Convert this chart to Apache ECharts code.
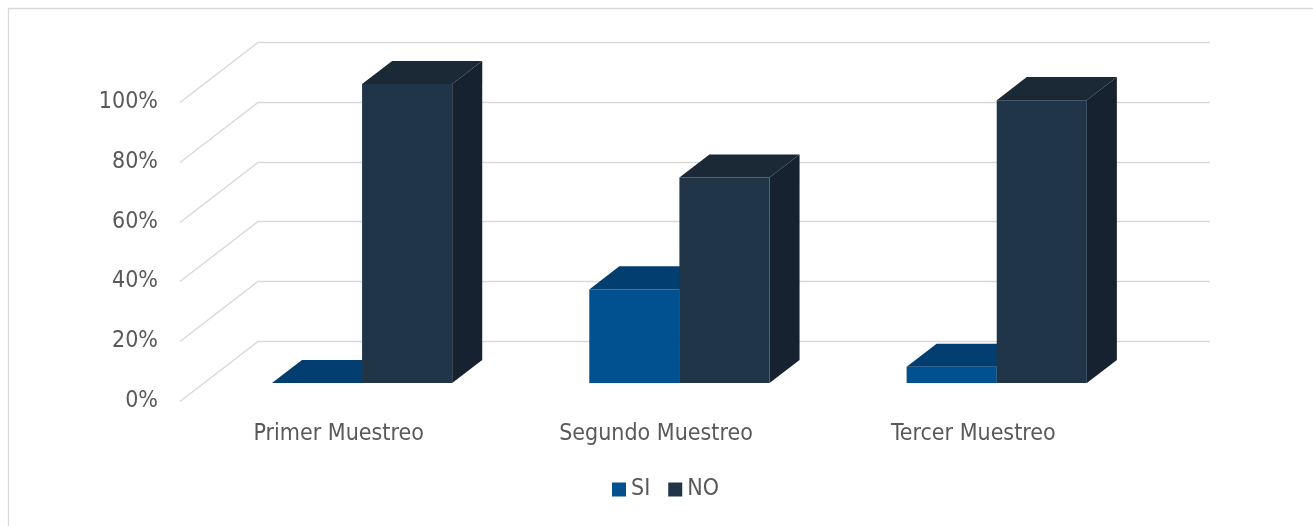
<!DOCTYPE html>
<html>
<head>
<meta charset="utf-8">
<script src="https://cdn.jsdelivr.net/npm/echarts@6/dist/echarts.min.js"></script>
<style>
html,body{margin:0;padding:0;background:#fff;}
#chart{width:1313px;height:526px;}
</style>
</head>
<body>
<div id="chart"></div>
<script>
const categories = ['Primer Muestreo', 'Segundo Muestreo', 'Tercer Muestreo'];
const siValues = [0, 31.3, 5.4];
const noValues = [100, 68.7, 94.6];
const yTicks = [0, 20, 40, 60, 80, 100];
const seriesNames = ['SI', 'NO'];

const FONT = '"DejaVu Sans Condensed", "DejaVu Sans", sans-serif';
const TXT = '#595959';
const DX = 78, DY = 60;          // full depth offset of the walls (px)
const BAR_FRONT = 0.3, BAR_DEPTH = 0.385;
const BAR_FRAC = 0.284;

const colors = {
  SI: {front: '#01508f', top: '#023e6f', side: '#013563'},
  NO: {front: '#213549', top: '#1b2937', side: '#16222f'}
};

function wallItem(params, api) {
  const cs = params.coordSys;
  const p = api.coord([0, api.value(1)]);
  const y = Math.round(p[1]) + 0.5;
  return {
    type: 'polyline',
    shape: {points: [[cs.x, y], [cs.x + DX, y - DY], [cs.x + cs.width + DX, y - DY]]},
    style: {stroke: '#d9d9d9', lineWidth: 1.4, fill: null},
    silent: true
  };
}

function barRenderer(name, isLeft) {
  const c = colors[name];
  return function (params, api) {
    const idx = api.value(0), val = api.value(1);
    const top = api.coord([idx, val]);
    const base = api.coord([idx, 0]);
    const band = api.size([1, 0])[0];
    const w = band * BAR_FRAC;
    const sx = DX * BAR_FRONT, sy = DY * BAR_FRONT;
    const ddx = DX * BAR_DEPTH, ddy = DY * BAR_DEPTH;
    const x0 = top[0] + sx - (isLeft ? w : 0);
    const x1 = x0 + w;
    const yT = top[1] - sy, yB = base[1] - sy;
    return {
      type: 'group',
      children: [
        {type: 'polygon', shape: {points: [[x1, yT], [x1 + ddx, yT - ddy], [x1 + ddx, yB - ddy], [x1, yB]]},
         style: {fill: c.side}},
        {type: 'rect', shape: {x: x0, y: yT, width: w, height: yB - yT}, style: {fill: c.front}},
        {type: 'polygon', shape: {points: [[x0, yT], [x0 + ddx, yT - ddy], [x1 + ddx, yT - ddy], [x1, yT]]},
         style: {fill: c.top}}
      ]
    };
  };
}

const chart = echarts.init(document.getElementById('chart'));
chart.setOption({
  backgroundColor: '#fff',
  animation: false,
  textStyle: {fontFamily: FONT},
  grid: {left: 180, width: 952, top: 102, bottom: 125},
  graphic: [{
    type: 'rect',
    shape: {x: 8.5, y: 8.5, width: 1400, height: 700},
    style: {fill: null, stroke: '#d9d9d9', lineWidth: 1.3}, silent: true, z: -10
  }],
  legend: {
    data: seriesNames, left: 612, top: 478, padding: 0, icon: 'rect',
    itemWidth: 14, itemHeight: 14, itemGap: 18,
    textStyle: {color: TXT, fontSize: 23, fontFamily: FONT}
  },
  xAxis: {
    type: 'category', data: categories,
    axisLine: {show: false}, axisTick: {show: false},
    axisLabel: {color: TXT, fontSize: 23, margin: 22, fontFamily: FONT}
  },
  yAxis: {
    type: 'value', min: 0, max: 100, interval: 20,
    axisLine: {show: false}, axisTick: {show: false}, splitLine: {show: false},
    axisLabel: {color: TXT, fontSize: 23, margin: 22, formatter: '{value}%', fontFamily: FONT}
  },
  series: [
    {type: 'custom', name: 'walls', silent: true, clip: false, z: 1,
     data: yTicks.map(t => [0, t]), encode: {x: 0, y: 1}, renderItem: wallItem},
    {type: 'custom', name: 'SI', clip: false, z: 2, itemStyle: {color: colors.SI.front},
     data: siValues.map((v, i) => [i, v]), encode: {x: 0, y: 1}, renderItem: barRenderer('SI', true)},
    {type: 'custom', name: 'NO', clip: false, z: 3, itemStyle: {color: colors.NO.front},
     data: noValues.map((v, i) => [i, v]), encode: {x: 0, y: 1}, renderItem: barRenderer('NO', false)}
  ]
});
</script>
</body>
</html>
